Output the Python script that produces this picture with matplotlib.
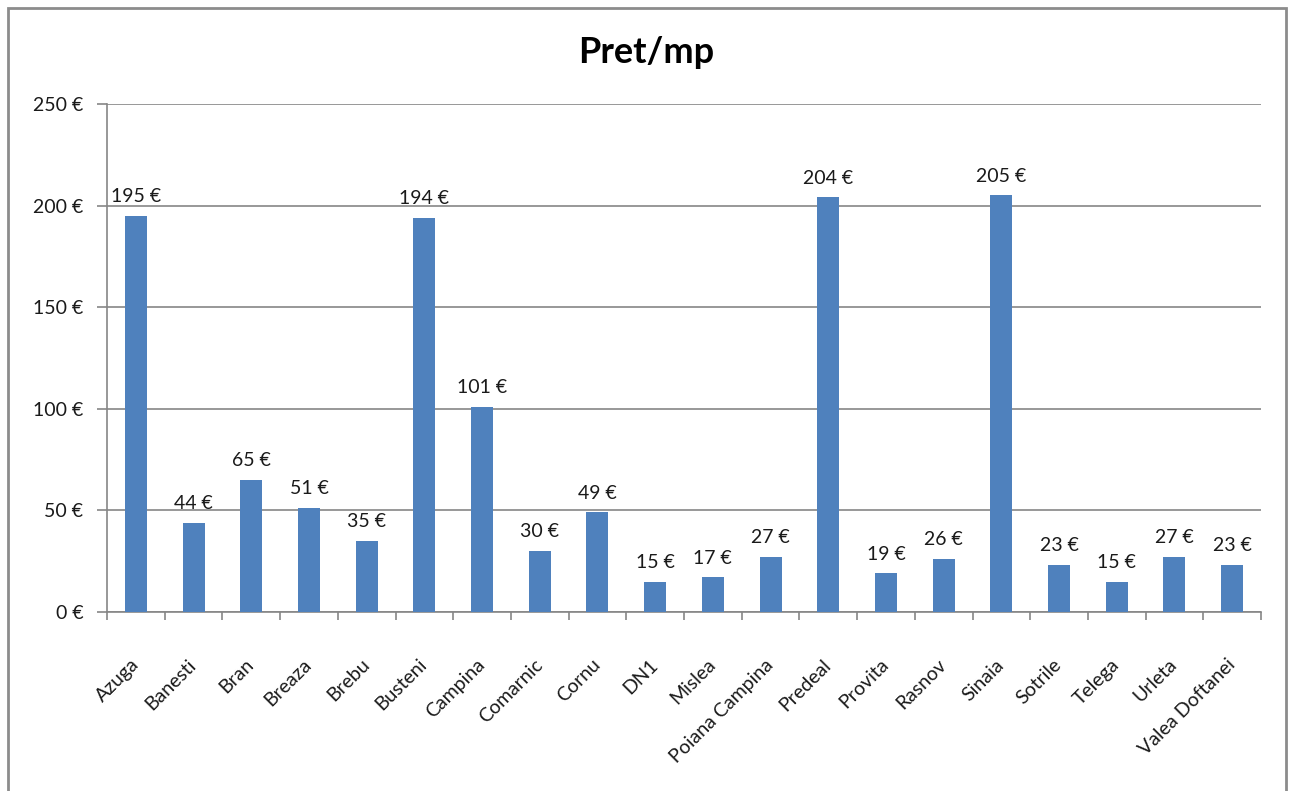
import numpy as np
import matplotlib.pyplot as plt
from matplotlib.patches import Rectangle

plt.rcParams['font.family'] = ['Lato', 'DejaVu Sans']

# ============= data =============
towns = ['Azuga', 'Banesti', 'Bran', 'Breaza', 'Brebu', 'Busteni', 'Campina',
         'Comarnic', 'Cornu', 'DN1', 'Mislea', 'Poiana Campina', 'Predeal',
         'Provita', 'Rasnov', 'Sinaia', 'Sotrile', 'Telega', 'Urleta',
         'Valea Doftanei']
price = [195, 44, 65, 51, 35, 194, 101, 30, 49, 15, 17, 27, 204, 19, 26,
         205, 23, 15, 27, 23]
y_ticks = [0, 50, 100, 150, 200, 250]
y_labels = ['0 €', '50 €', '100 €', '150 €', '200 €', '250 €']

# ============= plotting =============
W, H = 1292, 791
fig = plt.figure(figsize=(W / 100, H / 100), dpi=100)
ax = fig.add_axes([107 / W, 1 - 612 / H, (1261 - 107) / W, (612 - 104) / H])

blue = '#4f81bd'
grey = '#868686'
txt = '#1a1a1a'

x = np.arange(len(towns))
bars = ax.bar(x, price, width=0.38, color=blue, zorder=3)

for xi, v in zip(x, price):
    ax.annotate(f'{v} €', (xi, v), xytext=(0, 10), textcoords='offset points',
                ha='center', va='baseline', fontsize=14, color=txt)

ax.set_xlim(-0.5, len(towns) - 0.5)
ax.set_ylim(0, 250)
ax.set_yticks(y_ticks)
ax.set_yticklabels(y_labels, fontsize=14, color=txt)
ax.yaxis.grid(True, color=grey, linewidth=1.2, zorder=0)

ax.set_xticks(x)
ax.set_xticklabels(towns, fontsize=14, color=txt, rotation=45,
                   ha='right', va='center', rotation_mode='anchor')
ax.set_xticks(np.arange(-0.5, len(towns)), minor=True)
ax.tick_params(axis='x', which='major', length=0, pad=36)
ax.tick_params(axis='x', which='minor', length=6, width=1.2, color=grey)
ax.tick_params(axis='y', length=7, width=1.2, color=grey, pad=10)

for side in ['top', 'right']:
    ax.spines[side].set_visible(False)
for side in ['left', 'bottom']:
    ax.spines[side].set_color(grey)
    ax.spines[side].set_linewidth(1.2)

fig.text(0.5, 1 - 63 / H, 'Pret/mp', ha='center', va='baseline',
         fontsize=26, fontweight='bold', color='black')

# chart border
fig.patches.append(Rectangle((8 / W, -0.05), (1286 - 8) / W, 1.05 - 8 / H,
                             transform=fig.transFigure, fill=False,
                             edgecolor='#8c8c8c', linewidth=2))

fig.savefig('out.png', dpi=100)
